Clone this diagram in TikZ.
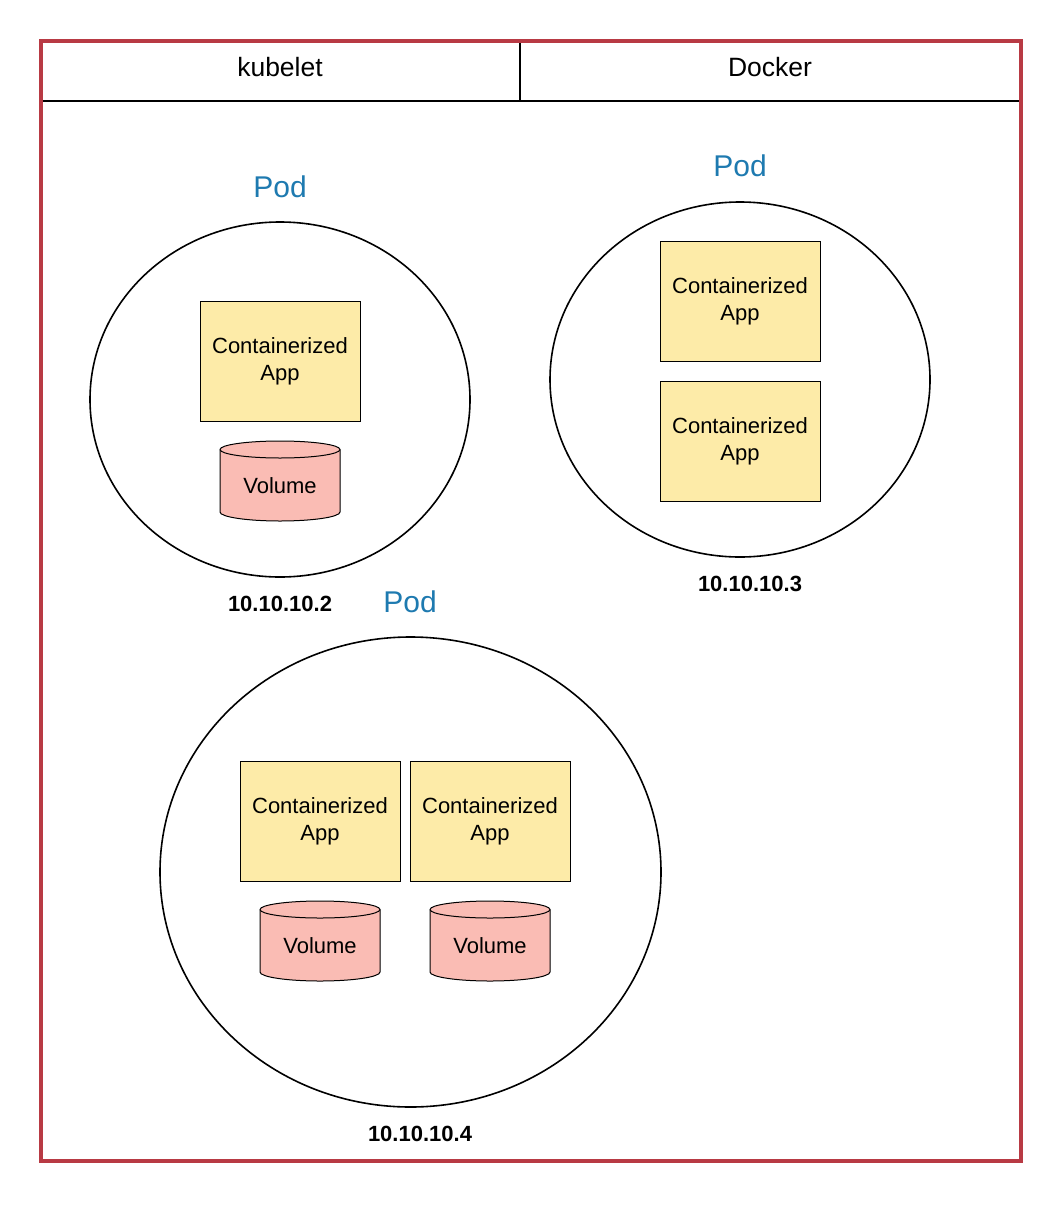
\documentclass[tikz,border=0pt]{standalone}
\usepackage{fontspec}
\setmainfont{Liberation Sans}
\usetikzlibrary{shapes.geometric}
\definecolor{framered}{RGB}{184,58,68}
\definecolor{podblue}{RGB}{30,122,176}
\definecolor{appfill}{RGB}{253,235,168}
\definecolor{volfill}{RGB}{250,188,180}
\tikzset{
  podcirc/.style={ellipse, draw=black, line width=1.6pt, inner sep=0pt},
  appbox/.style={rectangle, draw=black, line width=1pt, fill=appfill, minimum width=160, minimum height=120, inner sep=0pt, align=center, font=\fontsize{22}{27}\selectfont},
  voltext/.style={inner sep=0pt, font=\fontsize{22}{26}\selectfont},
  podlabel/.style={text=podblue, inner sep=0pt, font=\fontsize{30}{34}\selectfont},
  iplabel/.style={inner sep=0pt, font=\fontsize{22}{26}\selectfont\bfseries},
  headtext/.style={inner sep=0pt, font=\fontsize{26.5}{30}\selectfont},
  volshape/.style={fill=volfill, draw=black, line width=1pt}
}
\newcommand{\volcyl}[3]{% center x, top y, name
  \path[volshape] (#1-60,#2+8.5) -- (#1-60,#2+71) arc[start angle=180, end angle=0, x radius=60, y radius=9] -- (#1+60,#2+8.5) arc[start angle=360, end angle=180, x radius=60, y radius=8.5] -- cycle;
  \draw[line width=1pt] (#1-60,#2+8.5) arc[start angle=180, end angle=0, x radius=60, y radius=8.5];
  \node[voltext] (#3) at (#1,#2+45) {Volume};
}
\begin{document}
\begin{tikzpicture}[x=1pt,y=-1pt]
\useasboundingbox (0,0) rectangle (1060,1207);
\fill[white] (0,0) rectangle (1060,1207);
% header
\draw[line width=2pt] (42,100.5) -- (1019,100.5);
\draw[line width=2pt] (520,42) -- (520,100.5);
\node[headtext] (kubelet) at (280,67) {kubelet};
\node[headtext] (docker) at (770,67) {Docker};
% outer frame
\draw[framered, line width=4pt] (40.5,41.5) rectangle (1020.5,1160.5);
% Pod 1
\node[podlabel] (pod1lbl) at (280,187) {Pod};
\node[podcirc, minimum width=380, minimum height=355] (pod1) at (280,399.5) {};
\node[appbox] (app1) at (280,361) {Containerized\\App};
\volcyl{280}{441}{vol1}
\node[iplabel] (ip1) at (280,604) {10.10.10.2};
% Pod 2
\node[podlabel] (pod2lbl) at (740,166) {Pod};
\node[podcirc, minimum width=380, minimum height=355] (pod2) at (740,379.5) {};
\node[appbox] (app2a) at (740,301) {Containerized\\App};
\node[appbox] (app2b) at (740,441) {Containerized\\App};
\node[iplabel] (ip2) at (750,584) {10.10.10.3};
% Pod 3
\node[podlabel] (pod3lbl) at (410,602) {Pod};
\node[podcirc, minimum width=501, minimum height=470] (pod3) at (410.5,872) {};
\node[appbox] (app3a) at (320,821) {Containerized\\App};
\node[appbox] (app3b) at (490,821) {Containerized\\App};
\volcyl{320}{901}{vol3a}
\volcyl{490}{901}{vol3b}
\node[iplabel] (ip3) at (420,1134) {10.10.10.4};
\end{tikzpicture}
\end{document}
